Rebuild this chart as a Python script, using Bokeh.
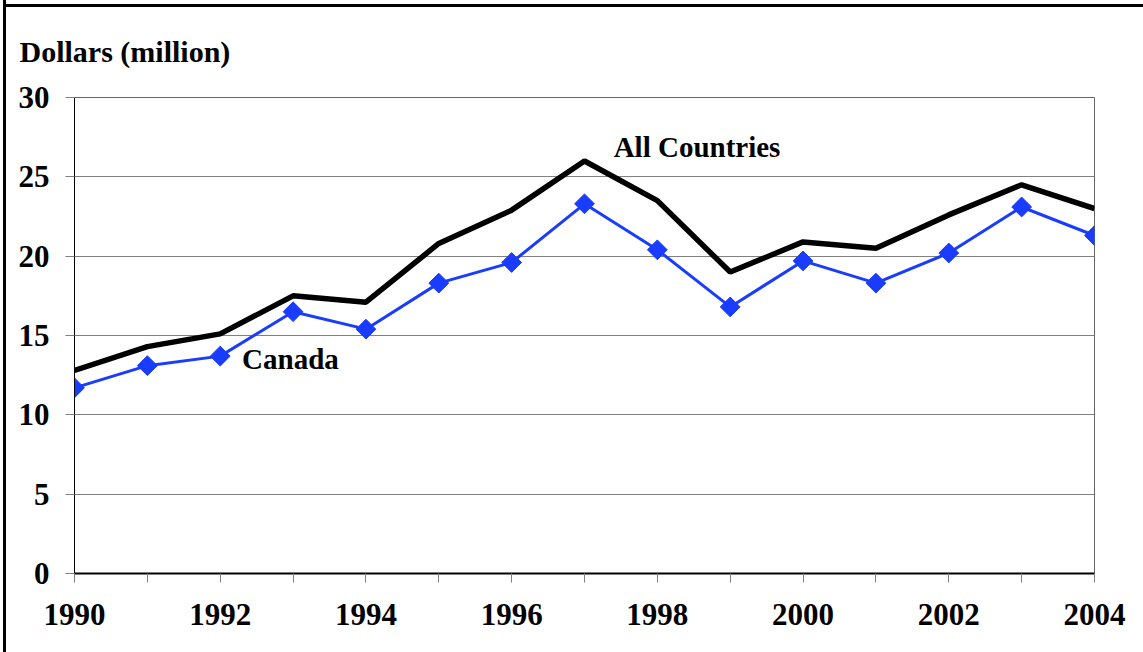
from bokeh.plotting import figure
from bokeh.models import Label, FixedTicker, Title
from bokeh.embed import file_html
from bokeh.resources import INLINE

years = list(range(1990, 2005))
all_countries = [12.8, 14.3, 15.1, 17.5, 17.1, 20.8, 22.9, 26.0, 23.5, 19.0, 20.9, 20.5, 22.6, 24.5, 23.0]
canada = [11.7, 13.1, 13.7, 16.5, 15.4, 18.3, 19.6, 23.3, 20.4, 16.8, 19.7, 18.3, 20.2, 23.1, 21.3]
y_ticks = [0, 5, 10, 15, 20, 25, 30]
x_tick_labels = {y: (str(y) if y % 2 == 0 else "") for y in years}

FONT = "Liberation Serif"
BLUE = "#1a3cff"

p = figure(width=1143, height=652, output_backend="svg", toolbar_location=None,
           x_range=(1990, 2004), y_range=(0, 30),
           min_border_left=74, min_border_right=49, min_border_top=97, min_border_bottom=79)
p.border_fill_alpha = 0
p.background_fill_color = "white"
p.styles = {
    "background": ("linear-gradient(black, black) 3px 0px / 3px 100% no-repeat, "
                   "linear-gradient(black, black) 3px 4px / 100% 3px no-repeat, white"),
}

p.title = Title(text="Dollars (million)", align="left", offset=-55, standoff=60,
                text_font=FONT, text_font_style="bold", text_font_size="30px",
                text_color="black")

p.outline_line_color = "#666666"
p.outline_line_width = 1
p.xgrid.grid_line_color = None
p.ygrid.grid_line_color = "#808080"
p.ygrid.grid_line_width = 1

p.xaxis.ticker = FixedTicker(ticks=years)
p.xaxis.major_label_overrides = {y: s for y, s in x_tick_labels.items()}
p.yaxis.ticker = FixedTicker(ticks=y_ticks)

for ax in (p.xaxis[0], p.yaxis[0]):
    ax.major_label_text_font = FONT
    ax.major_label_text_font_style = "bold"
    ax.major_label_text_font_size = "31px"
    ax.major_label_text_color = "black"
    ax.major_tick_in = 0
    ax.major_tick_out = 9
    ax.minor_tick_line_color = None
    ax.major_tick_line_color = "#808080"
    ax.axis_line_color = "black"

p.xaxis.axis_line_width = 2
p.yaxis.axis_line_width = 1
p.xaxis.major_label_standoff = 21
p.yaxis.major_label_standoff = 16

p.line(years, all_countries, line_color="black", line_width=5.5)
p.line(years, canada, line_color=BLUE, line_width=3)
p.scatter(years, canada, marker="square", angle=0.785398, size=14,
          fill_color=BLUE, line_color=BLUE)

p.add_layout(Label(x=1997.4, y=26.85, text="All Countries", text_font=FONT,
                   text_font_style="bold", text_font_size="29px", text_color="black",
                   text_baseline="middle"))
p.add_layout(Label(x=1992.3, y=13.55, text="Canada", text_font=FONT,
                   text_font_style="bold", text_font_size="29px", text_color="black",
                   text_baseline="middle"))

open("out.html", "w").write(file_html(p, INLINE))
